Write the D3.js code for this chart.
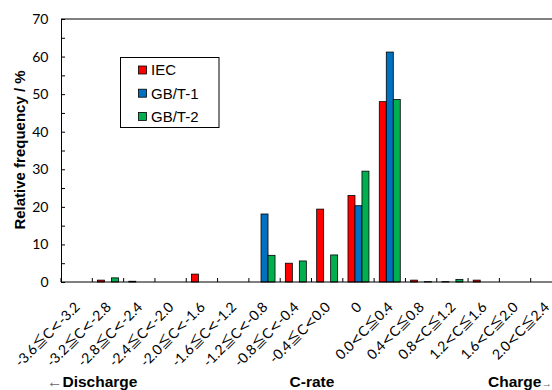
<!DOCTYPE html>
<html>
<head>
<meta charset="utf-8">
<script src="https://cdn.jsdelivr.net/npm/d3@7"></script>
<style>
  html, body { margin: 0; padding: 0; background: #fff; }
  svg { display: block; }
</style>
</head>
<body>
<svg id="chart" width="552" height="390"></svg>
<script>
// C-rate bins
const categories = [
  "-3.6≦C<-3.2", "-3.2≦C<-2.8", "-2.8≦C<-2.4", "-2.4≦C<-2.0",
  "-2.0≦C<-1.6", "-1.6≦C<-1.2", "-1.2≦C<-0.8", "-0.8≦C<-0.4",
  "-0.4≦C<0.0", "0", "0.0<C≦0.4", "0.4<C≦0.8",
  "0.8<C≦1.2", "1.2<C≦1.6", "1.6<C≦2.0", "2.0<C≦2.4"
];
const seriesNames = ["IEC", "GB/T-1", "GB/T-2"];
const iec   = [0, 0.5, 0.2, 0, 2.1, 0, 0, 5.0, 19.4, 23.0, 48.0, 0.5, 0.1, 0.5, 0, 0];
const gbt1  = [0, 0, 0, 0, 0, 0, 18.1, 0, 0, 20.3, 61.2, 0, 0, 0, 0, 0];
const gbt2  = [0, 1.1, 0, 0, 0, 0, 7.1, 5.6, 7.2, 29.5, 48.6, 0.1, 0.7, 0, 0, 0];
const colors = ["#FF0000", "#0070C0", "#00B050"];
const yTicks = [0, 10, 20, 30, 40, 50, 60, 70];

const seriesValues = [iec, gbt1, gbt2];

const svg = d3.select("#chart");
const plotLeft = 61, plotRight = 562, plotTop = 19, plotBottom = 282;
const tickFont = "Lato, 'Noto Sans CJK JP', sans-serif";
const titleFont = "Arial, 'Liberation Sans', sans-serif";

const x0 = d3.scaleBand().domain(categories).range([plotLeft, plotRight])
  .paddingInner(0.33).paddingOuter(0.165);
const x1 = d3.scaleBand().domain(seriesNames).range([0, x0.bandwidth()]);
const y = d3.scaleLinear().domain([0, 70]).range([plotBottom, plotTop]);

// top border of the plot frame
svg.append("line").attr("x1", plotLeft).attr("x2", plotRight).attr("y1", plotTop).attr("y2", plotTop)
  .attr("stroke", "#000").attr("stroke-width", 1);

// bars
const barData = [];
seriesValues.forEach((vals, si) => {
  vals.forEach((v, ci) => {
    if (v > 0) barData.push({ s: seriesNames[si], c: categories[ci], v, color: colors[si] });
  });
});
svg.append("g").selectAll("rect").data(barData).join("rect")
  .attr("x", d => x0(d.c) + x1(d.s))
  .attr("y", d => y(d.v))
  .attr("width", x1.bandwidth())
  .attr("height", d => plotBottom - y(d.v))
  .attr("fill", d => d.color)
  .attr("stroke", "#000")
  .attr("stroke-width", 0.8);

// y axis
const yAxis = d3.axisLeft(y).tickValues(d3.range(0, 71, 5)).tickSize(-4)
  .tickFormat(d => yTicks.includes(d) ? d : "");
const gy = svg.append("g").attr("transform", `translate(${plotLeft},0)`).call(yAxis);
gy.select(".domain").attr("stroke", "#000");
gy.selectAll(".tick line").attr("stroke", "#000");
gy.selectAll(".tick text")
  .attr("x", -12.5)
  .attr("font-family", tickFont)
  .attr("font-size", 14)
  .attr("fill", "#000");

// x axis: ticks at bin boundaries
const step = x0.step();
const bounds = d3.range(categories.length + 1).map(i => plotLeft + i * step);
const gx = svg.append("g");
gx.append("line").attr("x1", plotLeft).attr("x2", plotRight).attr("y1", plotBottom).attr("y2", plotBottom)
  .attr("stroke", "#000").attr("stroke-width", 1.2);
gx.selectAll("line.tk").data(bounds).join("line").attr("class", "tk")
  .attr("x1", d => d).attr("x2", d => d).attr("y1", plotBottom).attr("y2", plotBottom - 4)
  .attr("stroke", "#000");

// rotated bin labels; relation signs use wider faces
const symbolFont = { "≦": "'Noto Sans CJK JP', sans-serif", "<": "'DejaVu Sans', sans-serif" };
gx.selectAll("text").data(categories).join("text")
  .attr("transform", d => `translate(${x0(d) + x0.bandwidth() / 2 + 4},${plotBottom + 26}) rotate(-45)`)
  .attr("text-anchor", "end")
  .attr("font-family", tickFont)
  .attr("font-size", 14)
  .attr("fill", "#000")
  .each(function (d) {
    const t = d3.select(this);
    d.split(/([≦<])/).filter(s => s.length).forEach(part => {
      const sp = t.append("tspan").text(part);
      if (symbolFont[part]) sp.attr("font-family", symbolFont[part]);
    });
  });

// axis titles
svg.append("text")
  .attr("transform", `translate(25,150) rotate(-90)`)
  .attr("text-anchor", "middle")
  .attr("font-family", titleFont)
  .attr("font-weight", "bold").attr("font-size", 15)
  .text("Relative frequency / %");

const bottomTitle = (xPos, anchor) => svg.append("text")
  .attr("x", xPos).attr("y", 387).attr("text-anchor", anchor)
  .attr("font-family", titleFont)
  .attr("font-weight", "bold").attr("font-size", 15.5);
const arrowSpan = (t, s, size) => t.append("tspan").attr("font-weight", "normal")
  .attr("font-size", size).attr("fill", "#666").text(s);

const dis = bottomTitle(47, "start");
arrowSpan(dis, "←", 15.5);
dis.append("tspan").text("Discharge");
bottomTitle(312, "middle").text("C-rate");
const chg = bottomTitle(488, "start");
chg.append("tspan").text("Charge");
arrowSpan(chg, "→", 10.5);

// legend
const lg = svg.append("g").attr("transform", "translate(120.5,57.5)");
lg.append("rect").attr("width", 98.5).attr("height", 70)
  .attr("fill", "#fff").attr("stroke", "#000").attr("stroke-width", 1);
seriesNames.forEach((n, i) => {
  const cy = 12.5 + i * 23.2;
  lg.append("rect").attr("x", 18).attr("y", cy - 4).attr("width", 8).attr("height", 8)
    .attr("fill", colors[i]).attr("stroke", "#000").attr("stroke-width", 0.8);
  lg.append("text").attr("x", 30.5).attr("y", cy + 5.3)
    .attr("font-family", titleFont)
    .attr("font-size", 15).text(n);
});
</script>
</body>
</html>
